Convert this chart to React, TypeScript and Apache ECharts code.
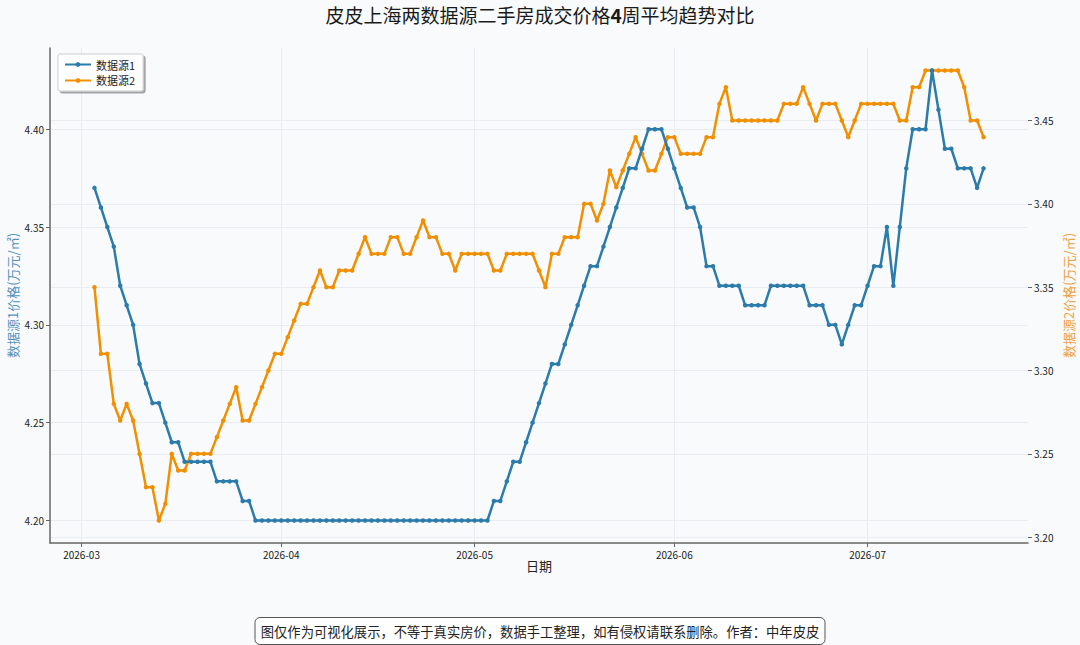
import React, { useEffect, useRef } from "react";
import * as echarts from "echarts";

// ---- data (daily, 2026-03-03 .. 2026-07-19) ----
const startDay = "2026-03-03";
const source1Name = "数据源1";
const source2Name = "数据源2";
const source1: number[] = [
  4.37, 4.36, 4.35, 4.34, 4.32, 4.31, 4.30, 4.28, 4.27, 4.26, 4.26, 4.25, 4.24, 4.24,
  4.23, 4.23, 4.23, 4.23, 4.23,
  4.22, 4.22, 4.22, 4.22,
  4.21, 4.21,
  4.20, 4.20, 4.20, 4.20, 4.20, 4.20, 4.20, 4.20, 4.20, 4.20, 4.20, 4.20, 4.20, 4.20, 4.20, 4.20, 4.20, 4.20, 4.20,
  4.20, 4.20, 4.20, 4.20, 4.20, 4.20, 4.20, 4.20, 4.20, 4.20, 4.20, 4.20, 4.20, 4.20, 4.20, 4.20, 4.20, 4.20,
  4.21, 4.21, 4.22, 4.23, 4.23, 4.24, 4.25, 4.26, 4.27, 4.28, 4.28, 4.29, 4.30, 4.31, 4.32, 4.33, 4.33, 4.34,
  4.35, 4.36, 4.37, 4.38, 4.38, 4.39, 4.40, 4.40, 4.40, 4.39,
  4.38, 4.37, 4.36, 4.36, 4.35, 4.33, 4.33, 4.32, 4.32, 4.32, 4.32, 4.31, 4.31, 4.31, 4.31,
  4.32, 4.32, 4.32, 4.32, 4.32, 4.32, 4.31, 4.31, 4.31, 4.30, 4.30, 4.29, 4.30, 4.31, 4.31,
  4.32, 4.33, 4.33, 4.35, 4.32, 4.35, 4.38, 4.40, 4.40, 4.40, 4.43, 4.41, 4.39, 4.39, 4.38, 4.38, 4.38, 4.37, 4.38,
];
const source2: number[] = [
  3.35, 3.31, 3.31, 3.28, 3.27, 3.28, 3.27, 3.25, 3.23, 3.23, 3.21, 3.22, 3.25, 3.24, 3.24,
  3.25, 3.25, 3.25, 3.25,
  3.26, 3.27, 3.28, 3.29, 3.27, 3.27, 3.28, 3.29, 3.30, 3.31,
  3.31, 3.32, 3.33, 3.34, 3.34, 3.35, 3.36, 3.35, 3.35, 3.36, 3.36, 3.36, 3.37, 3.38, 3.37, 3.37, 3.37,
  3.38, 3.38, 3.37, 3.37, 3.38, 3.39, 3.38, 3.38, 3.37, 3.37, 3.36, 3.37, 3.37,
  3.37, 3.37, 3.37, 3.36, 3.36, 3.37, 3.37, 3.37, 3.37, 3.37, 3.36, 3.35, 3.37, 3.37, 3.38, 3.38, 3.38,
  3.40, 3.40, 3.39, 3.40, 3.42, 3.41, 3.42, 3.43, 3.44, 3.43, 3.42, 3.42, 3.43, 3.44,
  3.44, 3.43, 3.43, 3.43, 3.43, 3.44, 3.44, 3.46, 3.47, 3.45, 3.45, 3.45, 3.45, 3.45, 3.45, 3.45, 3.45,
  3.46, 3.46, 3.46, 3.47, 3.46, 3.45, 3.46, 3.46, 3.46, 3.45, 3.44, 3.45, 3.46,
  3.46, 3.46, 3.46, 3.46, 3.46, 3.45, 3.45, 3.47, 3.47, 3.48, 3.48, 3.48, 3.48, 3.48, 3.48, 3.47, 3.45, 3.45, 3.44,
];
const monthTicks = ["2026-03-01", "2026-04-01", "2026-05-01", "2026-06-01", "2026-07-01"];
const leftTicks = [4.2, 4.25, 4.3, 4.35, 4.4];
const rightTicks = [3.2, 3.25, 3.3, 3.35, 3.4, 3.45];

const titlePre = "皮皮上海两数据源二手房成交价格";
const titleNum = "4";
const titlePost = "周平均趋势对比";
const xName = "日期";
const leftName = "数据源1价格(万元/㎡)";
const rightName = "数据源2价格(万元/㎡)";
const footerText = "图仅作为可视化展示，不等于真实房价，数据手工整理，如有侵权请联系删除。作者：中年皮皮";

const DAY = 86400000;
const toTs = (s: string) => {
  const [y, m, d] = s.split("-").map(Number);
  return Date.UTC(y, m - 1, d);
};
const t0 = toTs(startDay);
const dates = source1.map((_, i) => t0 + i * DAY);

const FONT = "Noto Sans CJK SC";
const BLUE = "#2b7bab";
const ORANGE = "#f18f01";

export default function App() {
  const ref = useRef<HTMLDivElement>(null);
  useEffect(() => {
    if (!ref.current) return;
    const chart = echarts.init(ref.current, undefined, { renderer: "svg" });
    const span = dates[dates.length - 1] - dates[0];
    const xmin = dates[0] - span * 0.05;
    const xmax = dates[dates.length - 1] + span * 0.05;
    const lmin = Math.min(...source1), lmax = Math.max(...source1);
    const rmin = Math.min(...source2), rmax = Math.max(...source2);
    const lpad = (lmax - lmin) * 0.05, rpad = (rmax - rmin) * 0.05;
    const fmtMonth = (v: number) => {
      const d = new Date(v);
      return d.getUTCFullYear() + "-" + String(d.getUTCMonth() + 1).padStart(2, "0");
    };
    const monthTs = monthTicks.map(toTs);
    const gridColor = "#e9edf1";
    chart.setOption({
      animation: false,
      backgroundColor: "#f8fafc",
      textStyle: { fontFamily: FONT },
      title: {
        text: "{a|" + titlePre + "}{b|" + titleNum + "}{a|" + titlePost + "}",
        left: "center",
        top: 0,
        textStyle: {
          rich: {
            a: { fontSize: 19, fontWeight: "normal", color: "#1a1a1a", fontFamily: FONT },
            b: { fontSize: 19, fontWeight: "bold", color: "#1a1a1a", fontFamily: FONT },
          },
        },
      },
      legend: {
        orient: "vertical",
        left: 58,
        top: 54,
        backgroundColor: "#ffffff",
        borderColor: "#cccccc",
        borderWidth: 1,
        borderRadius: 2,
        padding: [5, 8, 5, 6],
        itemGap: 5,
        itemWidth: 26,
        itemHeight: 6,
        shadowColor: "rgba(0,0,0,0.35)",
        shadowOffsetX: 2,
        shadowOffsetY: 2,
        shadowBlur: 0,
        textStyle: { fontSize: 11, color: "#222", fontFamily: FONT },
        data: [source1Name, source2Name],
      },
      grid: { left: 50, right: 52, top: 48, bottom: 102, containLabel: false, outerBoundsMode: "none" },
      xAxis: {
        type: "value",
        min: xmin,
        max: xmax,
        name: xName,
        nameLocation: "middle",
        nameGap: 16,
        nameMoveOverlap: false,
        nameTextStyle: { fontSize: 13, color: "#222", fontFamily: FONT },
        axisLine: { show: true, lineStyle: { color: "#666", width: 1.5 } },
        axisTick: { show: true, length: 4, lineStyle: { color: "#666" }, customValues: monthTs },
        axisLabel: {
          fontSize: 10,
          color: "#222",
          margin: 6,
          customValues: monthTs,
          formatter: (v: number) => fmtMonth(v),
        },
        splitLine: { show: false },
      },
      yAxis: [
        {
          type: "value",
          position: "left",
          min: lmin - lpad,
          max: lmax + lpad,
          name: leftName,
          nameLocation: "middle",
          nameRotate: 90,
          nameGap: 31,
          nameMoveOverlap: false,
          nameTextStyle: { fontSize: 13, color: "#5592bb", fontFamily: FONT },
          axisLine: { show: true, lineStyle: { color: "#666", width: 1.5 } },
          axisTick: { show: true, length: 4, lineStyle: { color: "#666" }, customValues: leftTicks },
          axisLabel: {
            fontSize: 10,
            color: "#222",
            margin: 6,
            customValues: leftTicks,
            formatter: (v: number) => v.toFixed(2),
          },
          splitLine: { show: false },
        },
        {
          type: "value",
          position: "right",
          min: rmin - rpad,
          max: rmax + rpad,
          name: rightName,
          nameLocation: "middle",
          nameRotate: 90,
          nameGap: 34,
          nameMoveOverlap: false,
          nameTextStyle: { fontSize: 13, color: "#f0a040", fontFamily: FONT },
          axisLine: { show: false },
          axisTick: { show: true, length: 4, lineStyle: { color: "#666" }, customValues: rightTicks },
          axisLabel: {
            fontSize: 10,
            color: "#222",
            margin: 6,
            customValues: rightTicks,
            formatter: (v: number) => v.toFixed(2),
          },
          splitLine: { show: false },
        },
      ],
      series: [
        {
          name: source1Name,
          type: "line",
          yAxisIndex: 0,
          data: dates.map((d, i) => [d, source1[i]]),
          lineStyle: { color: BLUE, width: 2.5 },
          itemStyle: { color: BLUE },
          symbol: "circle",
          symbolSize: 4.5,
          showSymbol: true,
          z: 3,
          markLine: {
            silent: true,
            symbol: "none",
            label: { show: false },
            lineStyle: { color: gridColor, width: 1, type: "solid" },
            data: [
              ...leftTicks.map((v) => ({ yAxis: v })),
              ...monthTs.map((m) => ({ xAxis: m })),
            ],
            z: 0,
          },
        },
        {
          name: source2Name,
          type: "line",
          yAxisIndex: 1,
          data: dates.map((d, i) => [d, source2[i]]),
          lineStyle: { color: ORANGE, width: 2.5 },
          itemStyle: { color: ORANGE },
          symbol: "circle",
          symbolSize: 4.5,
          showSymbol: true,
          z: 2,
          markLine: {
            silent: true,
            symbol: "none",
            label: { show: false },
            lineStyle: { color: gridColor, width: 1, type: "solid" },
            data: rightTicks.map((v) => ({ yAxis: v })),
            z: 0,
          },
        },
      ],
      graphic: [
        {
          type: "group",
          left: "center",
          top: 617,
          children: [
            {
              type: "rect",
              shape: { x: 0, y: 0, width: 570, height: 27, r: 5 },
              style: { fill: "#ffffff", stroke: "#555", lineWidth: 1 },
            },
            {
              type: "text",
              x: 285,
              y: 13.5,
              style: {
                text: footerText,
                fontSize: 13.3,
                fill: "#222",
                fontFamily: FONT,
                align: "center",
                verticalAlign: "middle",
              },
            },
          ],
        },
      ],
    });
    return () => chart.dispose();
  }, []);
  return (
    <div
      ref={ref}
      style={{ position: "fixed", left: 0, top: 0, width: 1080, height: 645 }}
    />
  );
}
